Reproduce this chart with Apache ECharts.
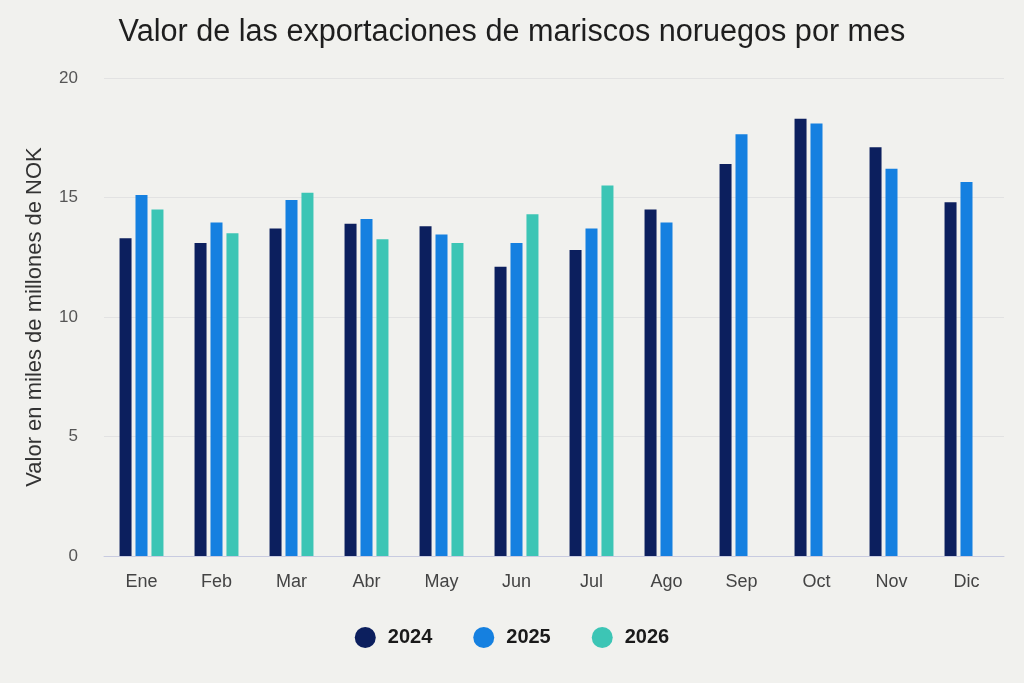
<!DOCTYPE html>
<html>
<head>
<meta charset="utf-8">
<title>Exportaciones de mariscos</title>
<script src="https://cdn.jsdelivr.net/npm/echarts@6/dist/echarts.min.js"></script>
<style>
    html, body { margin: 0; padding: 0; background: #f1f1ee; }
    #main { width: 1024px; height: 683px; }
</style>
</head>
<body>
<div id="main"></div>
<script>
// datos
let meses = ['Ene', 'Feb', 'Mar', 'Abr', 'May', 'Jun', 'Jul', 'Ago', 'Sep', 'Oct', 'Nov', 'Dic'];
let v2024 = [13.3, 13.1, 13.7, 13.9, 13.8, 12.1, 12.8, 14.5, 16.4, 18.3, 17.1, 14.8];
let v2025 = [15.1, 13.95, 14.9, 14.1, 13.45, 13.1, 13.7, 13.95, 17.65, 18.1, 16.2, 15.65];
let v2026 = [14.5, 13.5, 15.2, 13.25, 13.1, 14.3, 15.5, null, null, null, null, null];
let yTicks = [0, 5, 10, 15, 20];

let colores = ['#0c1f5e', '#1580e0', '#3cc5b5'];

let myChart = echarts.init(document.getElementById('main'));
let option = {
    backgroundColor: '#f1f1ee',
    textStyle: { fontFamily: 'Liberation Sans, Arial, sans-serif' },
    title: {
        text: 'Valor de las exportaciones de mariscos noruegos por mes',
        left: 'center',
        top: 12,
        textStyle: { fontSize: 30.6, fontWeight: 'normal', color: '#1e1e1e' }
    },
    legend: {
        bottom: 30,
        left: 'center',
        icon: 'circle',
        itemWidth: 21,
        itemHeight: 21,
        itemGap: 41,
        textStyle: { fontSize: 20, fontWeight: 'bold', color: '#1a1a1a', padding: [0, 0, 0, 7] },
        data: ['2024', '2025', '2026']
    },
    grid: {
        left: 104,
        right: 20,
        top: 78,
        bottom: 127
    },
    xAxis: {
        type: 'category',
        data: meses,
        axisTick: { show: false },
        axisLine: { lineStyle: { color: '#c8cbe0', width: 1 } },
        axisLabel: { fontSize: 18, color: '#444', margin: 17 }
    },
    yAxis: {
        type: 'value',
        min: yTicks[0],
        max: yTicks[yTicks.length - 1],
        interval: 5,
        name: 'Valor en miles de millones de NOK',
        nameLocation: 'middle',
        nameGap: 58,
        nameTextStyle: { fontSize: 22, color: '#333' },
        axisLabel: { fontSize: 17, color: '#555', margin: 26 },
        splitLine: { lineStyle: { color: '#e2e2e2' } }
    },
    series: [
        {
            name: '2024',
            type: 'bar',
            data: v2024,
            barWidth: 12,
            barGap: '33%',
            itemStyle: { color: colores[0] }
        },
        {
            name: '2025',
            type: 'bar',
            data: v2025,
            barWidth: 12,
            barGap: '33%',
            itemStyle: { color: colores[1] }
        },
        {
            name: '2026',
            type: 'bar',
            data: v2026,
            barWidth: 12,
            barGap: '33%',
            itemStyle: { color: colores[2] }
        }
    ]
};
myChart.setOption(option);
</script>
</body>
</html>
